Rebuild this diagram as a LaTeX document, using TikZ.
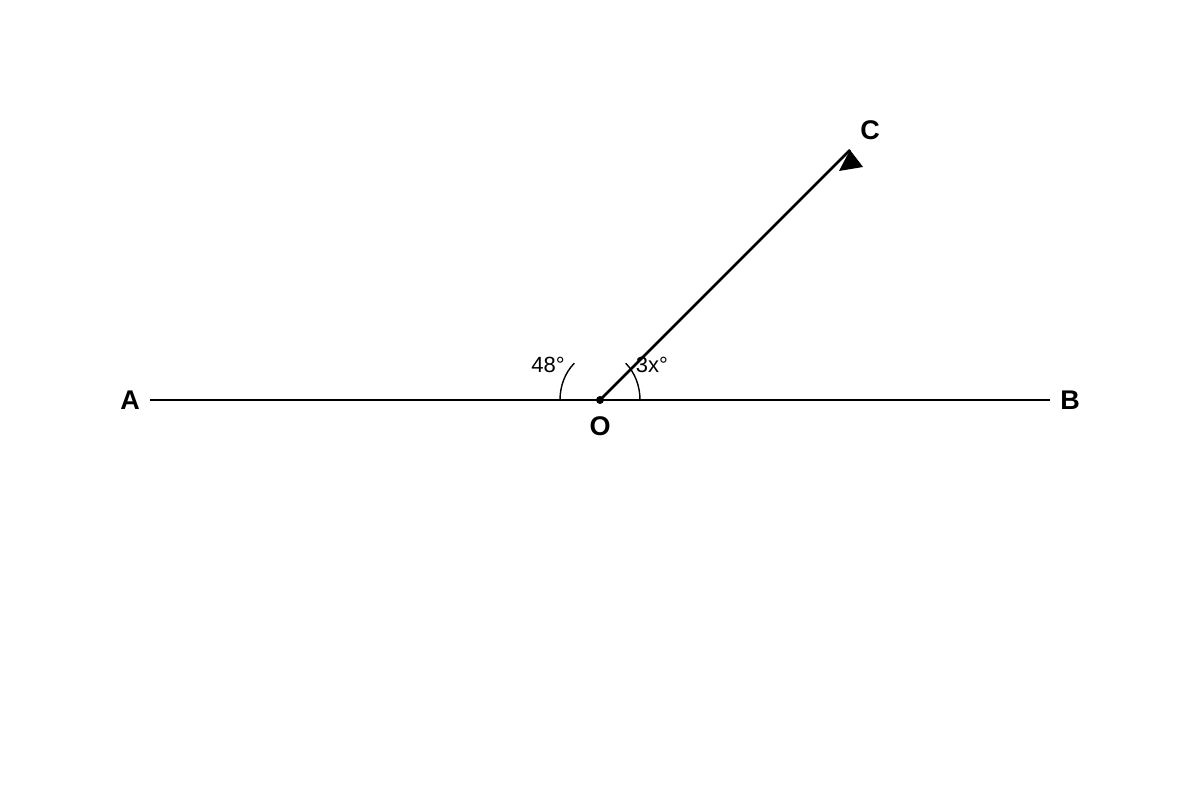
\documentclass[tikz,border=0pt]{standalone}
\usepackage{fontspec}
\setmainfont{Liberation Sans}
\usepackage{tikz}
\usetikzlibrary{positioning}

\tikzset{
  ptlabel/.style={font=\fontsize{27}{32}\selectfont\bfseries, inner sep=0pt},
  anglabel/.style={font=\fontsize{22}{26}\selectfont, inner sep=0pt},
  ray/.style={line width=2.5pt},
  angarc/.style={line width=1.4pt}
}

\begin{document}
\begin{tikzpicture}[x=1pt, y=1pt]

\useasboundingbox (0,0) rectangle (1200,800);

\coordinate (O) at (600,400);
\coordinate (A) at (150,400);
\coordinate (B) at (1050,400);
\coordinate (C) at (850,650);

\draw [ray] (A) -- (B);
\draw [ray] (O) -- (C);
\fill (C) -- ++(-11,-21) -- ++(24,4) -- cycle;
\fill (O) circle (4);

\draw [angarc] (O) ++(-40,0) arc [start angle=180, end angle=130, x radius=40, y radius=48];
\draw [angarc] (O) ++(40,0) arc [start angle=0, end angle=50, x radius=40, y radius=48];

\node [ptlabel] (labelA) at (130,400) {A};
\node [ptlabel] (labelB) at (1070,400) {B};
\node [ptlabel] (labelC) at (870,670) {C};
\node [ptlabel] (labelO) at (600,374) {O};
\node [anglabel] (ang48) at (548,435) {48°};
\node [anglabel] (ang3x) at (652,435) {3x°};

\end{tikzpicture}
\end{document}
